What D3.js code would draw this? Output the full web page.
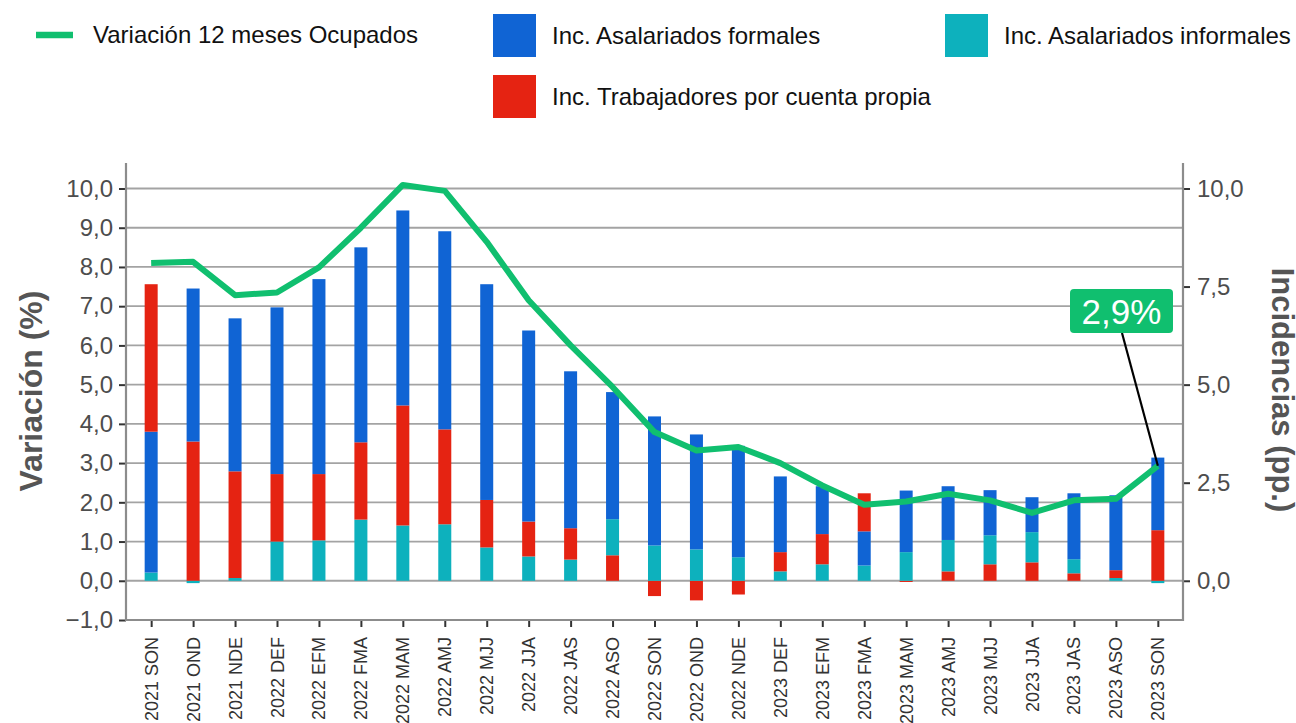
<!DOCTYPE html>
<html>
<head>
<meta charset="utf-8">
<script src="https://cdn.jsdelivr.net/npm/d3@7"></script>
<style>
  body { margin: 0; background: #fff; }
  svg { display: block; font-family: "Liberation Sans", Arial, sans-serif; }
</style>
</head>
<body>
<svg id="chart" width="1296" height="723"></svg>
<script>
var categories = ["2021 SON","2021 OND","2021 NDE","2022 DEF","2022 EFM","2022 FMA","2022 MAM","2022 AMJ","2022 MJJ","2022 JJA","2022 JAS","2022 ASO","2022 SON","2022 OND","2022 NDE","2023 DEF","2023 EFM","2023 FMA","2023 MAM","2023 AMJ","2023 MJJ","2023 JJA","2023 JAS","2023 ASO","2023 SON"];

// incidencias (pp.)
var formales = [3.59,3.90,3.90,4.25,4.97,4.97,4.97,5.05,5.50,4.87,4.00,3.24,3.29,2.93,2.84,1.93,1.22,0.87,1.57,1.37,1.15,0.89,1.68,1.91,1.85];
var informales = [0.21,-0.06,0.07,1.00,1.03,1.56,1.41,1.44,0.85,0.62,0.54,0.92,0.90,0.80,0.60,0.24,0.42,0.39,0.73,0.80,0.74,0.77,0.36,0.07,-0.06];
var cuentaPropia = [3.76,3.55,2.72,1.72,1.69,1.97,3.06,2.42,1.21,0.89,0.80,0.65,-0.39,-0.50,-0.35,0.49,0.77,0.97,-0.03,0.24,0.42,0.47,0.19,0.20,1.29];

// variacion 12 meses ocupados (%)
var ocupados = [8.10,8.13,7.28,7.35,7.99,9.00,10.09,9.94,8.64,7.15,6.00,4.94,3.79,3.32,3.41,3.00,2.43,1.94,2.02,2.22,2.05,1.73,2.05,2.09,2.93];

var leftTicks = [-1,0,1,2,3,4,5,6,7,8,9,10];
var rightTicks = [0,2.5,5,7.5,10];

var seriesNames = ["Inc. Asalariados formales","Inc. Asalariados informales","Inc. Trabajadores por cuenta propia"];
var seriesColors = ["#1064d4","#0db1bd","#e52312"];
var lineColor = "#10bf6f";

var svg = d3.select("#chart");
var plotLeft = 126, plotRight = 1183, plotTop = 163, plotBottom = 620;

var es = d3.formatLocale({decimal: ",", thousands: ".", grouping: [3], currency: ["", ""], minus: "\u2212"});
var fmt = es.format(".1f");

var x = d3.scalePoint()
    .domain(categories)
    .range([plotLeft, plotRight])
    .padding(0.6);

var y = d3.scaleLinear()
    .domain([-1, 10.65])
    .range([plotBottom, plotTop]);

// gridlines
svg.append("g")
    .selectAll("line")
    .data(leftTicks.filter(function(d) { return d > -1; }))
    .enter().append("line")
    .attr("x1", plotLeft).attr("x2", plotRight)
    .attr("y1", function(d) { return y(d); })
    .attr("y2", function(d) { return y(d); })
    .attr("stroke", "#a3a3a3")
    .attr("stroke-width", 1.8);

// build stacks: each category stacked from smallest to largest value
var series = [formales, informales, cuentaPropia];
var rects = [];
categories.forEach(function(c, i) {
    var items = series.map(function(s, k) { return {k: k, v: s[i]}; });
    items.sort(function(a, b) { return a.v - b.v; });
    var pos = 0, neg = 0;
    items.forEach(function(it) {
        if (it.v >= 0) {
            rects.push({c: c, k: it.k, y0: pos, y1: pos + it.v});
            pos += it.v;
        } else {
            rects.push({c: c, k: it.k, y0: neg + it.v, y1: neg});
            neg += it.v;
        }
    });
});

var barW = 13;
svg.append("g")
    .selectAll("rect")
    .data(rects)
    .enter().append("rect")
    .attr("x", function(d) { return x(d.c) - barW / 2; })
    .attr("width", barW)
    .attr("y", function(d) { return y(d.y1); })
    .attr("height", function(d) { return y(d.y0) - y(d.y1); })
    .attr("fill", function(d) { return seriesColors[d.k]; });

// line
var line = d3.line()
    .x(function(d, i) { return x(categories[i]); })
    .y(function(d) { return y(d); });

svg.append("path")
    .datum(ocupados)
    .attr("d", line)
    .attr("fill", "none")
    .attr("stroke", lineColor)
    .attr("stroke-width", 6)
    .attr("stroke-linejoin", "round");

// axes
var axisColor = "#8c8c8c";
var leftAxis = svg.append("g")
    .attr("transform", "translate(" + plotLeft + ",0)")
    .call(d3.axisLeft(y).tickValues(leftTicks).tickSize(7).tickPadding(6).tickFormat(fmt));
var rightAxis = svg.append("g")
    .attr("transform", "translate(" + plotRight + ",0)")
    .call(d3.axisRight(y).tickValues(rightTicks).tickSize(7).tickPadding(7).tickFormat(fmt));
var bottomAxis = svg.append("g")
    .attr("transform", "translate(0," + plotBottom + ")")
    .call(d3.axisBottom(x).tickSize(7).tickFormat(""));

[leftAxis, rightAxis, bottomAxis].forEach(function(a) {
    a.select(".domain").remove();
    a.selectAll(".tick line").attr("stroke", "#333").attr("stroke-width", 2);
    a.selectAll(".tick text")
        .attr("fill", "#4d4d4d")
        .style("font-size", "24px")
        .style("font-family", "'Liberation Sans', Arial, sans-serif");
});

// frame lines
svg.append("line").attr("x1", plotLeft).attr("x2", plotLeft).attr("y1", plotTop).attr("y2", plotBottom + 1)
    .attr("stroke", axisColor).attr("stroke-width", 2.2);
svg.append("line").attr("x1", plotRight).attr("x2", plotRight).attr("y1", plotTop).attr("y2", plotBottom + 1)
    .attr("stroke", axisColor).attr("stroke-width", 2.2);
svg.append("line").attr("x1", plotLeft).attr("x2", plotRight).attr("y1", plotBottom).attr("y2", plotBottom)
    .attr("stroke", axisColor).attr("stroke-width", 2.2);

// x labels, rotated
svg.append("g")
    .selectAll("text")
    .data(categories)
    .enter().append("text")
    .attr("transform", function(d) { return "translate(" + (x(d) + 6.5) + ",637) rotate(-90)"; })
    .attr("text-anchor", "end")
    .attr("fill", "#333")
    .style("font-size", "18px")
    .text(function(d) { return d; });

// axis titles
svg.append("text")
    .attr("transform", "translate(42,391) rotate(-90)")
    .attr("text-anchor", "middle")
    .attr("fill", "#555")
    .style("font-size", "32px")
    .style("font-weight", "bold")
    .text("Variación (%)");

svg.append("text")
    .attr("transform", "translate(1272,390) rotate(90)")
    .attr("text-anchor", "middle")
    .attr("fill", "#555")
    .style("font-size", "31px")
    .style("font-weight", "bold")
    .text("Incidencias (pp.)");

// annotation for last value
var last = ocupados.length - 1;
var lx = x(categories[last]), ly = y(ocupados[last]);
svg.append("line")
    .attr("x1", 1122).attr("y1", 333)
    .attr("x2", lx).attr("y2", ly)
    .attr("stroke", "#000").attr("stroke-width", 2.2);
svg.append("rect")
    .attr("x", 1070).attr("y", 289).attr("width", 103).attr("height", 44).attr("rx", 4)
    .attr("fill", lineColor);
svg.append("text")
    .attr("x", 1121.5).attr("y", 324)
    .attr("text-anchor", "middle")
    .attr("fill", "#fff")
    .style("font-size", "35px")
    .text(fmt(ocupados[last]) + "%");

// legend
var legend = svg.append("g").style("font-size", "24px").attr("fill", "#111");
legend.append("line")
    .attr("x1", 36).attr("x2", 73).attr("y1", 35).attr("y2", 35)
    .attr("stroke", lineColor).attr("stroke-width", 6.5);
legend.append("text").attr("x", 93).attr("y", 43).text("Variación 12 meses Ocupados");

var legendPos = [[493, 14], [945, 14], [493, 75]];
seriesNames.forEach(function(name, k) {
    legend.append("rect")
        .attr("x", legendPos[k][0]).attr("y", legendPos[k][1])
        .attr("width", 43).attr("height", 43)
        .attr("fill", seriesColors[k]);
    legend.append("text")
        .attr("x", legendPos[k][0] + 59).attr("y", legendPos[k][1] + 30)
        .text(name);
});
</script>
</body>
</html>
